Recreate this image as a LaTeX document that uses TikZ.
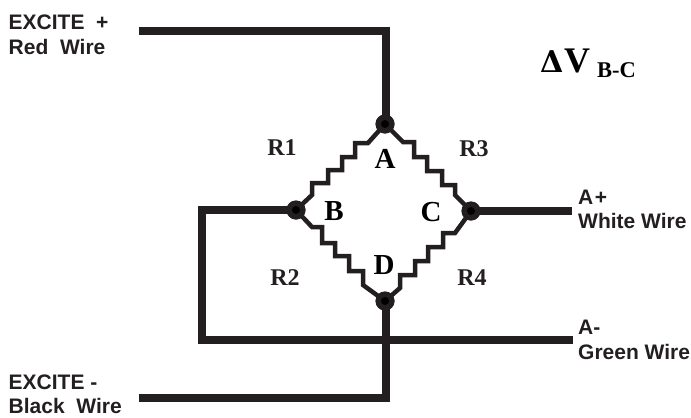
\documentclass[tikz,border=0pt]{standalone}
\usepackage{fontspec}
\setmainfont{Liberation Serif}
\newfontfamily\wirefont{Liberation Sans}
\newfontfamily\deltafont{DejaVu Serif}
\definecolor{wirecol}{HTML}{231F20}
\tikzset{
  x=1bp,y=-1bp,
  wire/.style={draw=wirecol,line width=8bp,line join=miter},
  res/.style={draw=wirecol,line width=4.5bp,line join=miter},
  junction/.style={circle,fill=wirecol,minimum size=19bp,inner sep=0pt,draw=none,path picture={\fill[black] (path picture bounding box.center) circle (4bp);}},
  wirelabel/.style={font=\wirefont\bfseries\fontsize{21bp}{24.5bp}\selectfont,text=wirecol,align=left,anchor=west,inner sep=0pt},
  rlabel/.style={font=\bfseries\fontsize{24bp}{26bp}\selectfont,text=wirecol,inner sep=0pt},
  ltr/.style={font=\bfseries\fontsize{29bp}{30bp}\selectfont,text=black,inner sep=0pt}
}
\begin{document}
\begin{tikzpicture}
\useasboundingbox (0,0) rectangle (691,417);
\coordinate (topend) at (139,30.5);
\coordinate (topcorner) at (385.5,30.5);
\coordinate (botend) at (139,398);
\coordinate (botcorner) at (385.5,398);
\coordinate (leftup) at (201.5,210);
\coordinate (leftdown) at (201.5,340);
\coordinate (greenend) at (573,340);
\coordinate (whiteend) at (572,211);
\node[junction] (A) at (385,124) {};
\node[junction] (B) at (296,210) {};
\node[junction] (C) at (471,211) {};
\node[junction] (D) at (385,301) {};
\draw[wire] (topend) -- (topcorner) -- (A.center -| topcorner);
\draw[wire] (D.center -| botcorner) -- (botcorner) -- (botend);
\draw[wire] (B.center) -- (leftup) -- (leftdown) -- (greenend);
\draw[wire] (C.center) -- (whiteend);
% R1
\draw[res] (A.center) -- (368,143) -- (355,143) -- (355,157) -- (342,157) -- (342,170) -- (328,170) -- (328,183) -- (312,183) -- (312,195) -- (B.center);
% R3
\draw[res] (A.center) -- (403,142) -- (414,142) -- (414,157) -- (427,157) -- (427,171) -- (442,171) -- (442,185) -- (455,185) -- (455,195) -- (C.center);
% R2
\draw[res] (B.center) -- (312,227) -- (322,227) -- (322,243) -- (335,243) -- (335,256) -- (349,256) -- (349,271) -- (363,271) -- (363,285) -- (D.center);
% R4
\draw[res] (C.center) -- (455,233) -- (443,233) -- (443,247) -- (428,247) -- (428,261) -- (415,261) -- (415,275) -- (400,275) -- (400,288) -- (D.center);
\node[junction] at (A) {};
\node[junction] at (B) {};
\node[junction] at (C) {};
\node[junction] at (D) {};
\node[wirelabel] (exp) at (8.5,35) {EXCITE\ \ +\\Red\ \ Wire};
\node[wirelabel] (exm) at (8.5,394.5) {EXCITE -\\Black\ \ Wire};
\node[wirelabel] (ap) at (578,209.5) {A\kern1.5bp+\\White Wire};
\node[wirelabel] (am) at (578,340) {A-\\Green Wire};
\node[rlabel] (r1) at (282,148) {R1};
\node[rlabel] (r3) at (474,149) {R3};
\node[rlabel] (r2) at (285,278) {R2};
\node[rlabel] (r4) at (472,278) {R4};
\node[ltr] (la) at (385,159) {A};
\node[ltr] (lb) at (334,211) {B};
\node[ltr] (lc) at (431,212) {C};
\node[ltr] (ld) at (384,265) {D};
\node[anchor=base west,inner sep=0pt,font=\deltafont\bfseries\fontsize{30bp}{32bp}\selectfont] (dv) at (540,72) {Δ};
\node[anchor=base west,inner sep=0pt,font=\bfseries\fontsize{36bp}{38bp}\selectfont] (vv) at (564,72) {V};
\node[anchor=base west,inner sep=0pt,font=\bfseries\fontsize{22.5bp}{24bp}\selectfont] (bc) at (597,77) {B-C};
\end{tikzpicture}
\end{document}
